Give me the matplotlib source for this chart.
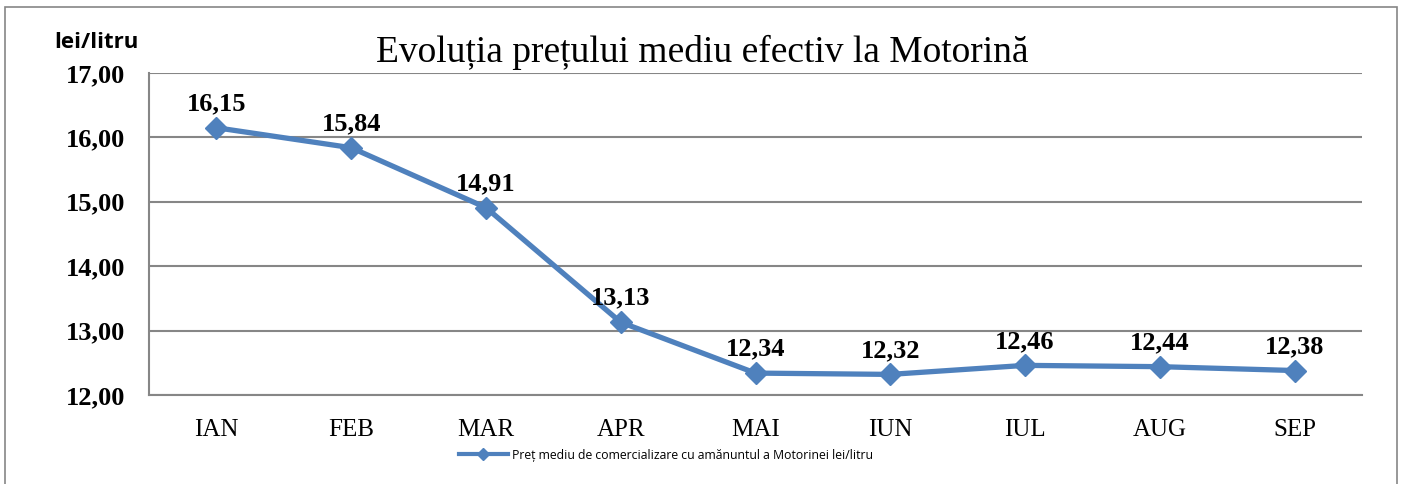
import matplotlib.pyplot as plt
from matplotlib.patches import Rectangle

# Data
luni = ['IAN', 'FEB', 'MAR', 'APR', 'MAI', 'IUN', 'IUL', 'AUG', 'SEP']
pret = [16.15, 15.84, 14.91, 13.13, 12.34, 12.32, 12.46, 12.44, 12.38]
yticks = [12, 13, 14, 15, 16, 17]

serif = 'Liberation Serif'
albastru = '#4F81BD'
gri = '#868686'

fig = plt.figure(figsize=(14.04, 4.84), dpi=100)
ax = fig.add_axes([149 / 1404, 1 - 395 / 484, (1362 - 149) / 1404, (395 - 73) / 484])

# outer chart frame
fig.patches.append(Rectangle((5 / 1404, -0.05), 1392 / 1404, 1 - 7 / 484 + 0.05,
                             transform=fig.transFigure, fill=False,
                             edgecolor=gri, linewidth=1.2))

x = list(range(len(luni)))
ax.plot(x, pret, color=albastru, linewidth=3.8, marker='D', markersize=11.5,
        label='Preț mediu de comercializare cu amănuntul a Motorinei lei/litru')

for xi, v in zip(x, pret):
    ax.annotate(f'{v:.2f}'.replace('.', ','), (xi, v), xytext=(0, 9),
                textcoords='offset points', ha='center', va='bottom',
                fontsize=19, fontweight='bold', family=serif)

ax.set_xlim(-0.5, len(luni) - 0.5)
ax.set_ylim(12, 17)
ax.set_yticks(yticks)
ax.set_yticklabels([f'{t:.2f}'.replace('.', ',') for t in yticks],
                   fontsize=19, fontweight='bold', family=serif)
ax.set_xticks(x)
ax.set_xticklabels(luni, fontsize=18, family=serif)
ax.tick_params(length=0)
ax.tick_params(axis='x', pad=17)
ax.tick_params(axis='y', pad=17)

ax.yaxis.grid(True, color=gri, linewidth=1.5)
ax.set_axisbelow(True)
for s in ['top', 'right']:
    ax.spines[s].set_visible(False)
for s in ['left', 'bottom']:
    ax.spines[s].set_color(gri)
    ax.spines[s].set_linewidth(1.5)

fig.text(702 / 1404, 1 - 52 / 484, 'Evoluția prețului mediu efectiv la Motorină',
         ha='center', va='center', fontsize=27, family=serif)
fig.text(96 / 1404, 1 - 42 / 484, 'lei/litru', ha='center', va='center',
         fontsize=16, fontweight='bold', family='Open Sans')

leg = fig.legend(loc='center', bbox_to_anchor=(666 / 1404, 1 - 455 / 484),
                 frameon=False, handlelength=4, handletextpad=0.4,
                 prop={'family': 'Open Sans', 'size': 8.8})
for h in leg.legend_handles:
    h.set_markersize(6)
    h.set_linewidth(3)

fig.savefig('out.png', dpi=100)
